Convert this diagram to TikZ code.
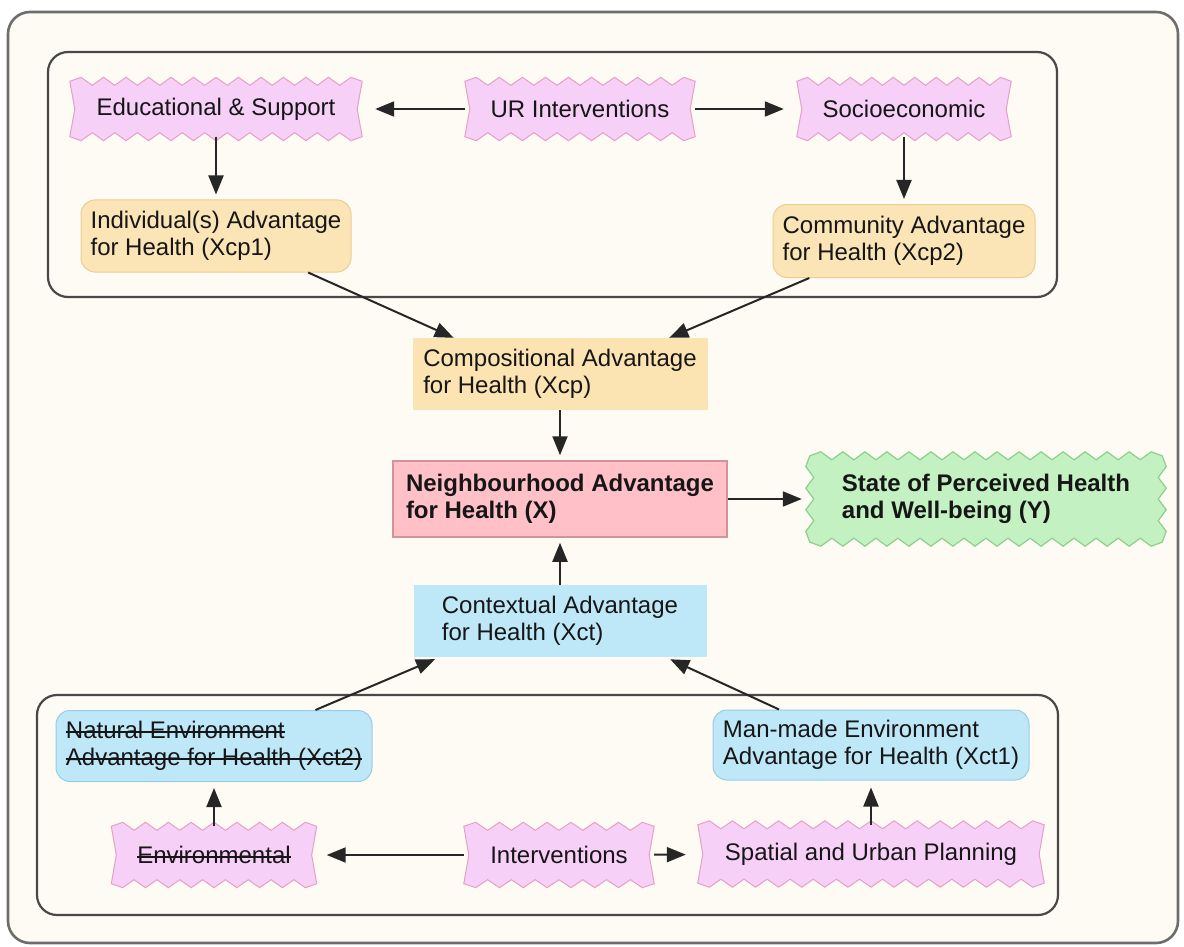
\documentclass[tikz,border=0pt]{standalone}
\usepackage{fontspec}
\setmainfont{Liberation Sans}
\usetikzlibrary{arrows.meta,calc}
\pgfdeclarelayer{back}
\pgfdeclarelayer{shapes}
\pgfsetlayers{back,shapes,main}

\definecolor{cream}{RGB}{253,251,243}
\definecolor{framegray}{RGB}{72,72,72}
\definecolor{pinkfill}{RGB}{247,208,248}
\definecolor{pinkedge}{RGB}{230,160,198}
\definecolor{orangefill}{RGB}{251,228,181}
\definecolor{orangeedge}{RGB}{236,206,146}
\definecolor{compfill}{RGB}{252,227,178}
\definecolor{redfill}{RGB}{255,192,200}
\definecolor{rededge}{RGB}{214,146,156}
\definecolor{greenfill}{RGB}{195,241,194}
\definecolor{greenedge}{RGB}{140,208,140}
\definecolor{bluefill}{RGB}{190,231,248}
\definecolor{blueedge}{RGB}{150,205,232}
\definecolor{inktext}{RGB}{22,22,22}

% struck-through text
\newcommand\strk[1]{\setbox0\hbox{#1}\rlap{\rule[0.24em]{\wd0}{1.6pt}}\box0}

% zigzag along a horizontal edge: #3 inner vertices, #4 tooth offset
\newcommand\zigH[4]{\foreach \zj [evaluate=\zj as \zt using \zj/(#3+1),
    evaluate=\zj as \zo using {#4*(1-2*mod(\zj,2))}] in {1,...,#3}
    { -- ($(#1)!\zt!(#2)+(0,\zo)$) } -- (#2)}
% zigzag along a vertical edge
\newcommand\zigV[4]{\foreach \zj [evaluate=\zj as \zt using \zj/(#3+1),
    evaluate=\zj as \zo using {#4*(1-2*mod(\zj,2))}] in {1,...,#3}
    { -- ($(#1)!\zt!(#2)+(\zo,0)$) } -- (#2)}

% banner outline: zigzag top and bottom, pinched sides
\newcommand\wavebox[2]{%
  \path[pinkshape] (#1.north west) \zigH{#1.north west}{#1.north east}{#2}{4}
    -- ($(#1.east)+(-5,0)$) -- (#1.south east)
    \zigH{#1.south east}{#1.south west}{#2}{-4}
    -- ($(#1.west)+(5,0)$) -- cycle;}
% burst outline: zigzag on all four sides
\newcommand\starbox[3]{%
  \path[greenshape] (#1.north west) \zigH{#1.north west}{#1.north east}{#2}{4}
    \zigV{#1.north east}{#1.south east}{#3}{-4}
    \zigH{#1.south east}{#1.south west}{#2}{-4}
    \zigV{#1.south west}{#1.north west}{#3}{4} -- cycle;}

\tikzset{
  lbl/.style={font=\fontsize{24}{27}\selectfont, text=inktext, align=left,
    inner sep=0pt},
  banner/.style={lbl},
  pinkshape/.style={fill=pinkfill, draw=pinkedge, line width=1pt},
  greenshape/.style={fill=greenfill, draw=greenedge, line width=1.2pt},
  subbox/.style={lbl, rounded corners=14pt, fill=orangefill, draw=orangeedge,
    line width=1pt},
  envbox/.style={lbl, rounded corners=14pt, fill=bluefill, draw=blueedge,
    line width=1pt},
  compbox/.style={lbl, fill=compfill},
  ctxbox/.style={lbl, fill=bluefill},
  hoodbox/.style={lbl, font=\fontsize{24}{27}\selectfont\bfseries,
    fill=redfill, draw=rededge, line width=1.5pt},
  outcome/.style={lbl, font=\fontsize{24}{27}\selectfont\bfseries},
  outerframe/.style={draw=framegray!80, fill=cream, line width=2.6pt,
    rounded corners=22pt},
  groupframe/.style={draw=framegray, line width=2.2pt, rounded corners=20pt},
  arr/.style={draw=black!85, line width=2pt,
    -{Triangle[length=19pt,width=15pt]}},
}

\begin{document}
\begin{tikzpicture}[x=1pt,y=-1pt]
\useasboundingbox (0,0) rectangle (1184,947);

\begin{pgfonlayer}{back}
  \fill[white] (0,0) rectangle (1184,947);
  \path[outerframe] (8,12) rectangle (1178,943);
  \path[groupframe] (48,52) rectangle (1057,297);
  \path[groupframe] (37,695) rectangle (1058,915);
\end{pgfonlayer}

% compositional branch
\node[banner, minimum width=292pt, minimum height=55pt] (edu) at (216,109) {Educational \& Support};
\node[banner, minimum width=230pt, minimum height=55pt] (ur) at (580,109) {UR Interventions};
\node[banner, minimum width=214pt, minimum height=55pt] (soc) at (904,109) {Socioeconomic};
\node[subbox, minimum width=270pt, minimum height=72pt] (xcp1) at (216,236) {Individual(s) Advantage\\for Health (Xcp1)};
\node[subbox, minimum width=262pt, minimum height=73pt] (xcp2) at (904,241) {Community Advantage\\for Health (Xcp2)};
\node[compbox, minimum width=295pt, minimum height=72pt] (xcp) at (560,374) {Compositional Advantage\\for Health (Xcp)};

% central factor and outcome
\node[hoodbox, minimum width=334pt, minimum height=76pt] (x) at (560,499) {Neighbourhood Advantage\\for Health (X)};
\node[outcome, minimum width=352pt, minimum height=86pt] (y) at (986,499) {State of Perceived Health\\and Well-being (Y)};

% contextual branch
\node[ctxbox, minimum width=293pt, minimum height=72pt] (xct) at (560,621) {Contextual Advantage\\for Health (Xct)};
\node[envbox, minimum width=316pt, minimum height=71pt] (xct2) at (214,746) {\strk{Natural Environment}\\\strk{Advantage for Health (Xct2)}};
\node[envbox, minimum width=316pt, minimum height=70pt] (xct1) at (871,745) {Man-made Environment\\Advantage for Health (Xct1)};
\node[banner, minimum width=205pt, minimum height=57pt] (env) at (214,855) {\strk{Environmental}};
\node[banner, minimum width=190pt, minimum height=57pt] (intv) at (559,855) {Interventions};
\node[banner, minimum width=346pt, minimum height=58pt] (spat) at (871,854) {Spatial and Urban Planning};

\begin{pgfonlayer}{shapes}
  \wavebox{edu}{25}
  \wavebox{ur}{19}
  \wavebox{soc}{19}
  \wavebox{env}{17}
  \wavebox{intv}{15}
  \wavebox{spat}{29}
  \starbox{y}{31}{7}
\end{pgfonlayer}

% connectors
\draw[arr, shorten >=13pt] (ur) -- (edu);
\draw[arr, shorten >=13pt] (ur) -- (soc);
\draw[arr, shorten >=5pt] (edu) -- (xcp1);
\draw[arr, shorten >=5pt] (soc) -- (xcp2);
\draw[arr] ($(xcp1.south west)!0.84!(xcp1.south east)$) -- ($(xcp.north west)!0.14!(xcp.north east)$);
\draw[arr] ($(xcp2.south west)!0.14!(xcp2.south east)$) -- ($(xcp.north west)!0.87!(xcp.north east)$);
\draw[arr, shorten >=5pt] (xcp) -- (x);
\draw[arr, shorten >=8pt] (x) -- (y);
\draw[arr, shorten >=5pt] (xct) -- (x);
\draw[arr, shorten >=5pt] ($(xct2.north west)!0.82!(xct2.north east)$) -- ($(xct.south west)!0.09!(xct.south east)$);
\draw[arr, shorten >=5pt] ($(xct1.north west)!0.21!(xct1.north east)$) -- ($(xct.south west)!0.86!(xct.south east)$);
\draw[arr, shorten >=6pt] (env) -- (xct2);
\draw[arr, shorten >=10pt] (intv) -- (env);
\draw[arr, shorten >=12pt] (intv) -- (spat);
\draw[arr, shorten >=7pt] (spat) -- (xct1);
\end{tikzpicture}
\end{document}
